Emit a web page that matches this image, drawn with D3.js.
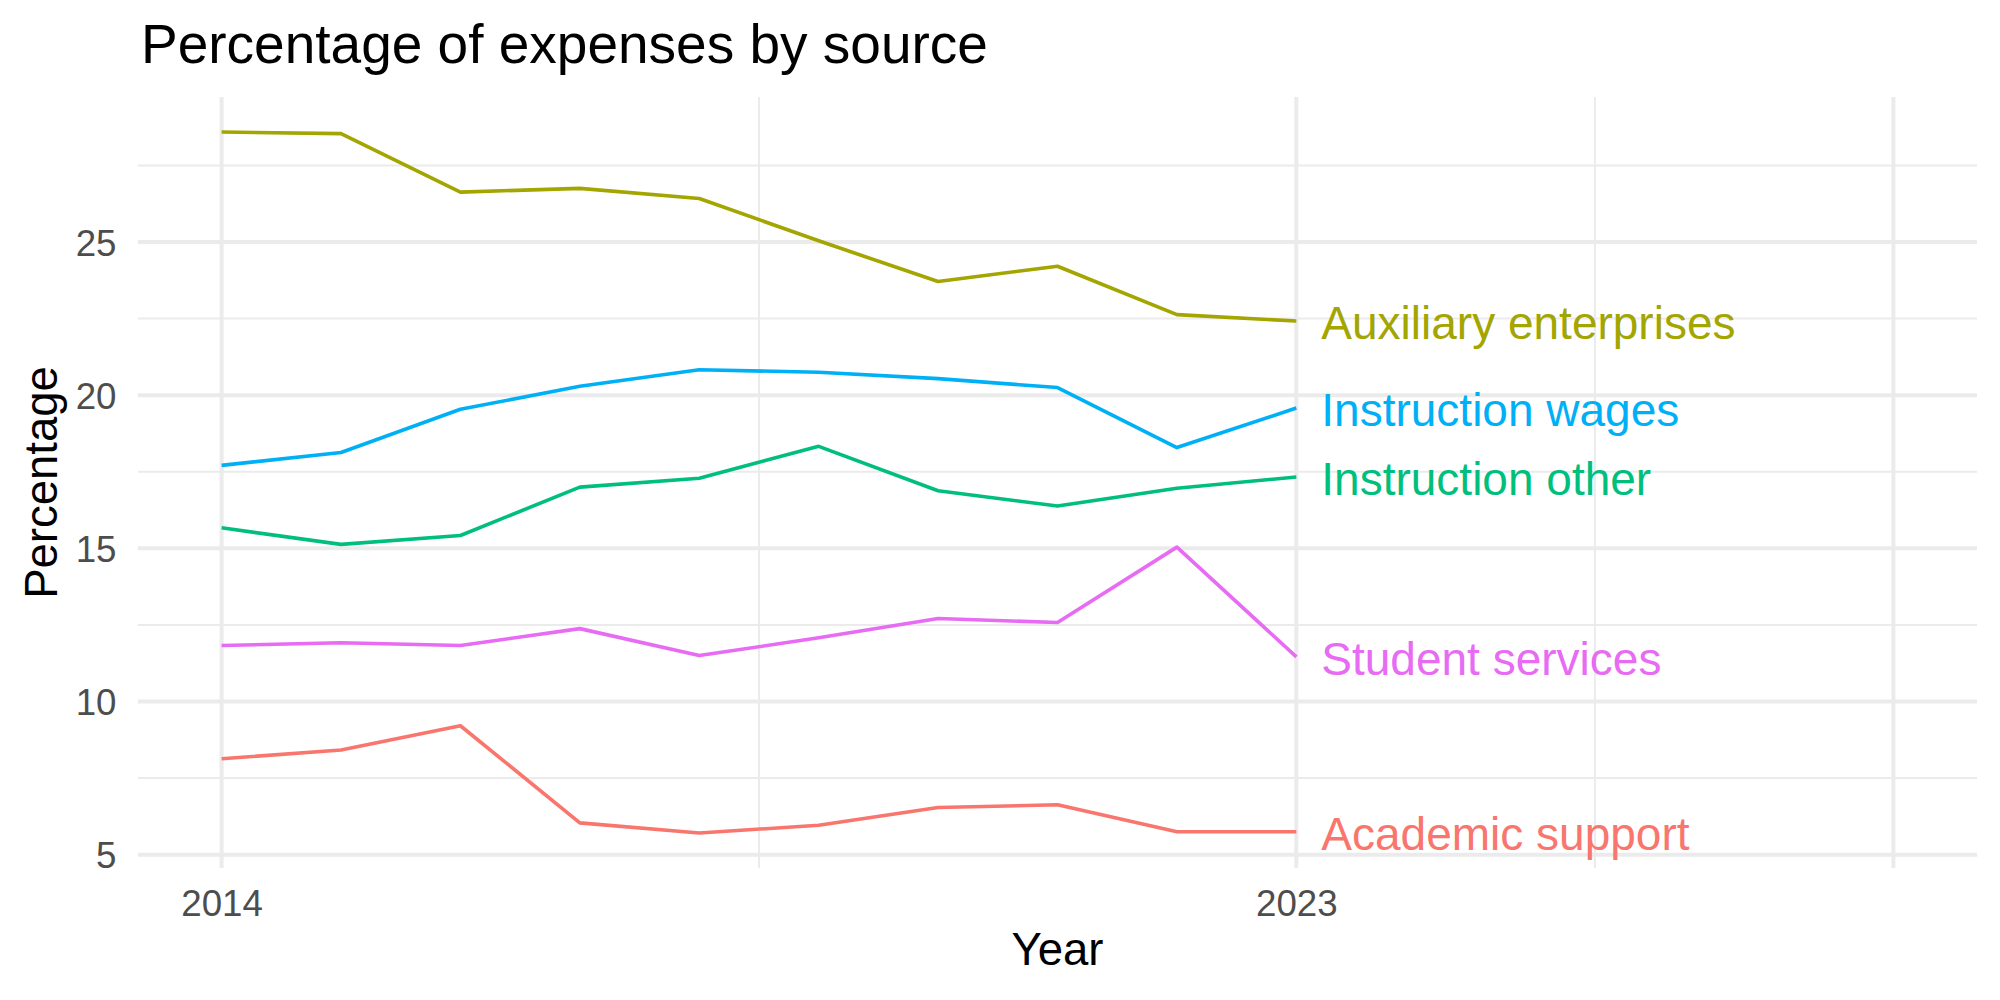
<!DOCTYPE html>
<html lang="en">
<head>
    <meta charset="UTF-8">
    <title>Percentage of expenses by source</title>
    <script src="https://d3js.org/d3.v7.min.js"></script>
    <style>
        body {
            margin: 0;
            background: white;
        }

        text {
            font-family: "Liberation Sans", Arial, Helvetica, sans-serif;
        }

        .title {
            font-size: 55px;
        }

        .axis-title {
            font-size: 45.5px;
            text-anchor: middle;
        }

        .tick text {
            font-size: 36.7px;
            fill: #4d4d4d;
        }

        .series-label {
            font-size: 46px;
        }
    </style>
</head>
<body>
<script>
    // data
    let years = [2014, 2015, 2016, 2017, 2018, 2019, 2020, 2021, 2022, 2023];
    let seriesNames = ["Academic support", "Auxiliary enterprises", "Instruction other", "Instruction wages", "Student services"];
    let academicSupport = [8.13, 8.42, 9.21, 6.04, 5.71, 5.96, 6.54, 6.63, 5.75, 5.75];
    let auxiliaryEnterprises = [28.59, 28.54, 26.63, 26.75, 26.42, 25.04, 23.71, 24.21, 22.63, 22.42];
    let instructionOther = [15.67, 15.13, 15.42, 17.0, 17.29, 18.33, 16.88, 16.38, 16.96, 17.33];
    let instructionWages = [17.71, 18.13, 19.54, 20.29, 20.83, 20.75, 20.54, 20.25, 18.29, 19.58];
    let studentServices = [11.83, 11.92, 11.83, 12.38, 11.5, 12.08, 12.71, 12.58, 15.04, 11.46];

    // axis breaks
    let xLimits = [2014, 2028];
    let xBreaks = [2014, 2023, 2028];
    let xLabels = ["2014", "2023", ""];
    let xMinorBreaks = [2018.5, 2025.5];
    let yBreaks = [5, 10, 15, 20, 25];
    let yMinorBreaks = [7.5, 12.5, 17.5, 22.5, 27.5];

    let colors = ["#F8766D", "#A3A500", "#00BF7D", "#00B0F6", "#E76BF3"];
    let allValues = [academicSupport, auxiliaryEnterprises, instructionOther, instructionWages, studentServices];

    let series = seriesNames.map((name, i) => ({
        name: name,
        color: colors[i],
        values: years.map((y, j) => ({year: y, value: allValues[i][j]}))
    }));

    let width = 2000;
    let height = 1000;
    let panel = {left: 138, right: 1977, top: 97, bottom: 868};

    let svg = d3.select("body").append("svg")
        .attr("width", width)
        .attr("height", height);

    svg.append("rect")
        .attr("fill", "white")
        .attr("width", width)
        .attr("height", height);

    // ggplot style 5% expansion
    function expand(lo, hi) {
        let pad = (hi - lo) * 0.05;
        return [lo - pad, hi + pad];
    }

    let flat = allValues.flat();
    let x = d3.scaleLinear()
        .domain(expand(xLimits[0], xLimits[1]))
        .range([panel.left, panel.right]);

    let y = d3.scaleLinear()
        .domain(expand(d3.min(flat), d3.max(flat)))
        .range([panel.bottom, panel.top]);

    // grid
    let grid = svg.append("g");
    grid.selectAll(".ymin").data(yMinorBreaks).join("line")
        .attr("x1", panel.left).attr("x2", panel.right)
        .attr("y1", d => y(d)).attr("y2", d => y(d))
        .attr("stroke", "#ebebeb").attr("stroke-width", 2);
    grid.selectAll(".xmin").data(xMinorBreaks).join("line")
        .attr("x1", d => x(d)).attr("x2", d => x(d))
        .attr("y1", panel.top).attr("y2", panel.bottom)
        .attr("stroke", "#ebebeb").attr("stroke-width", 2);
    grid.selectAll(".ymaj").data(yBreaks).join("line")
        .attr("x1", panel.left).attr("x2", panel.right)
        .attr("y1", d => y(d)).attr("y2", d => y(d))
        .attr("stroke", "#ebebeb").attr("stroke-width", 4);
    grid.selectAll(".xmaj").data(xBreaks).join("line")
        .attr("x1", d => x(d)).attr("x2", d => x(d))
        .attr("y1", panel.top).attr("y2", panel.bottom)
        .attr("stroke", "#ebebeb").attr("stroke-width", 4);

    // axes (labels only)
    let xAxis = svg.append("g")
        .attr("transform", "translate(0," + panel.bottom + ")")
        .call(d3.axisBottom(x).tickValues(xBreaks)
            .tickFormat((d, i) => xLabels[i])
            .tickSize(0).tickPadding(21.5));
    xAxis.select(".domain").remove();
    xAxis.selectAll("text").attr("font-family", null).attr("font-size", null);

    let yAxis = svg.append("g")
        .attr("transform", "translate(" + panel.left + ",0)")
        .call(d3.axisLeft(y).tickValues(yBreaks).tickSize(0).tickPadding(21.5));
    yAxis.select(".domain").remove();
    yAxis.selectAll("text").attr("dy", "0.36em").attr("font-family", null).attr("font-size", null);

    // lines
    let line = d3.line()
        .x(d => x(d.year))
        .y(d => y(d.value));

    svg.selectAll(".series").data(series).join("path")
        .attr("d", d => line(d.values))
        .attr("fill", "none")
        .attr("stroke", d => d.color)
        .attr("stroke-width", 3.6)
        .attr("stroke-linejoin", "round");

    // end labels
    svg.selectAll(".series-label").data(series).join("text")
        .attr("class", "series-label")
        .attr("x", d => x(d.values[d.values.length - 1].year) + 25)
        .attr("y", d => y(d.values[d.values.length - 1].value))
        .attr("dy", "0.4em")
        .attr("fill", d => d.color)
        .text(d => d.name);

    // titles
    svg.append("text")
        .attr("class", "title")
        .attr("x", 141)
        .attr("y", 63)
        .text("Percentage of expenses by source");

    svg.append("text")
        .attr("class", "axis-title")
        .attr("x", (panel.left + panel.right) / 2)
        .attr("y", 965)
        .text("Year");

    svg.append("text")
        .attr("class", "axis-title")
        .attr("transform", "translate(57," + (panel.top + panel.bottom) / 2 + ") rotate(-90)")
        .text("Percentage");
</script>
</body>
</html>
